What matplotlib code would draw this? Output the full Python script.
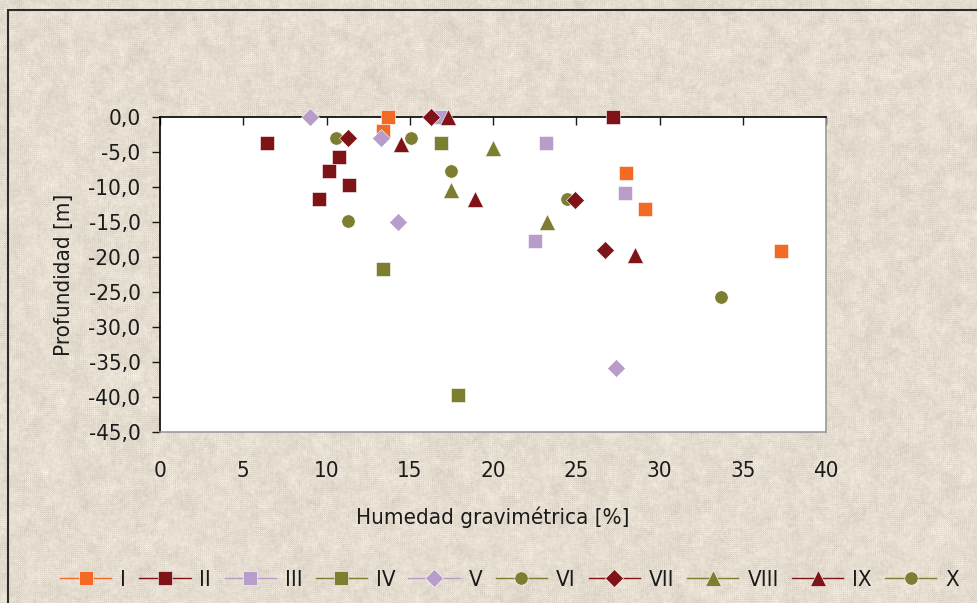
import numpy as np
import matplotlib
matplotlib.use("Agg")
import matplotlib.pyplot as plt
from matplotlib.patches import Rectangle
from matplotlib.ticker import FuncFormatter

plt.rcParams['font.family'] = ['Liberation Sans Narrow', 'DejaVu Sans']
plt.rcParams['font.stretch'] = 'condensed'

nan = np.nan

# humedad [%] y profundidad [m] por sondeo (nan = celda vacia, corta la linea)
I_x = [13.7, 13.4, nan, 28.0, nan, 29.1, nan, 37.3]
I_y = [0.0, -2.0, nan, -8.0, nan, -13.2, nan, -19.2]
II_x = [27.2, nan, 6.4, nan, 10.75, 10.15, nan, 11.35, nan, 9.55]
II_y = [0.0, nan, -3.8, nan, -5.8, -7.8, nan, -9.8, nan, -11.8]
III_x = [16.9, nan, 23.2, nan, 27.9, nan, 22.5]
III_y = [0.0, nan, -3.8, nan, -10.9, nan, -17.7]
IV_x = [16.9, nan, 13.4, nan, 17.9]
IV_y = [-3.8, nan, -21.7, nan, -39.7]
V_x = [9.0, nan, 13.3, nan, 14.3, nan, 27.4]
V_y = [0.0, nan, -3.0, nan, -15.0, nan, -35.9]
VI_x = [10.6, nan, 17.5, nan, 24.45]
VI_y = [-3.0, nan, -7.8, nan, -11.7]
VII_x = [16.3, nan, 11.3, nan, 24.9, nan, 26.7]
VII_y = [0.0, nan, -3.1, nan, -11.9, nan, -19.0]
VIII_x = [20.0, nan, 17.5, nan, 23.25]
VIII_y = [-4.4, nan, -10.4, nan, -15.0]
IX_x = [17.3, nan, 14.5, nan, 18.9, nan, 28.5]
IX_y = [0.0, nan, -3.9, nan, -11.8, nan, -19.8]
X_x = [15.1, nan, 11.3, nan, 33.7]
X_y = [-3.0, nan, -14.9, nan, -25.7]

naranja = '#F26A24'
granate = '#7E1418'
lila = '#B89DCB'
oliva = '#7E7E32'

series = [
    ('I', I_x, I_y, naranja, 's', 9.4),
    ('II', II_x, II_y, granate, 's', 9.4),
    ('III', III_x, III_y, lila, 's', 9.4),
    ('IV', IV_x, IV_y, oliva, 's', 9.4),
    ('V', V_x, V_y, lila, 'D', 9.4),
    ('VI', VI_x, VI_y, oliva, 'o', 9.6),
    ('VII', VII_x, VII_y, granate, 'D', 9.4),
    ('VIII', VIII_x, VIII_y, oliva, '^', 11),
    ('IX', IX_x, IX_y, granate, '^', 11),
    ('X', X_x, X_y, oliva, 'o', 9.6),
]

W, H = 978, 603
fig = plt.figure(figsize=(W / 100, H / 100), dpi=100)
fig.patch.set_facecolor('#E5DED0')

# fondo tipo papel: ruido suavizado con manchas
rng = np.random.default_rng(7)
fino = rng.normal(0, 1, (H, W))
grueso = rng.normal(0, 1, (H, W))
for _ in range(2):
    fino = (fino + np.roll(fino, 1, 0) + np.roll(fino, -1, 0)
            + np.roll(fino, 1, 1) + np.roll(fino, -1, 1)) / 5
for _ in range(8):
    grueso = (grueso + np.roll(grueso, 2, 0) + np.roll(grueso, -2, 0)
              + np.roll(grueso, 2, 1) + np.roll(grueso, -2, 1)) / 5
ruido = fino / fino.std() * 0.6 + grueso / grueso.std()
base = np.array([229, 222, 208]) / 255.0
tex = np.clip(base[None, None, :] + 0.02 * ruido[:, :, None], 0, 1)
fig.figimage(tex, xo=0, yo=0, zorder=0)

# marco del area del grafico
fig.add_artist(Rectangle((8 / W, -0.05), 1.2, 1 - 10 / H + 0.05,
                         transform=fig.transFigure, fill=False,
                         edgecolor='#2B2B2B', linewidth=1.5, zorder=1))

ax = fig.add_axes([160 / W, (H - 432) / H, 666 / W, (432 - 116.7) / H])
ax.set_zorder(3)
ax.set_facecolor('white')

for nombre, xs, ys, color, marca, tam in series:
    ax.plot(xs, ys, color=color, linewidth=1.0, marker=marca, markersize=tam,
            markeredgecolor='white', markeredgewidth=0.4,
            label=nombre, clip_on=False, zorder=3)

ax.set_xlim(0, 40)
ax.set_ylim(-45, 0)
ax.set_xticks(np.arange(0, 41, 5))
ax.set_yticks(np.arange(-45, 1, 5))
ax.yaxis.set_major_formatter(FuncFormatter(lambda v, p: f'{v:.1f}'.replace('.', ',')))

for lado in ('left', 'top'):
    ax.spines[lado].set_color('black')
    ax.spines[lado].set_linewidth(1.2)
for lado in ('right', 'bottom'):
    ax.spines[lado].set_color('#9A9A9A')
    ax.spines[lado].set_linewidth(1.2)

fs = 16
ax.tick_params(axis='x', top=True, bottom=False, labeltop=False, labelbottom=True,
               direction='in', length=5.5, width=1, pad=21, labelsize=fs,
               colors='#1A1A1A')
ax.tick_params(axis='y', direction='out', length=6, width=1, pad=8,
               labelsize=fs, colors='#1A1A1A')

ax.set_xlabel('Humedad gravimétrica [%]', fontsize=fs, color='#1A1A1A', labelpad=18)
ax.set_ylabel('Profundidad [m]', fontsize=fs, color='#1A1A1A', va='center')
ax.yaxis.set_label_coords((64 - 160) / 666, 0.5)

leg = fig.legend(loc='center', bbox_to_anchor=(0.521, 0.038), ncol=10, frameon=False,
                 fontsize=fs, handlelength=2.3, handletextpad=0.4,
                 columnspacing=0.6, borderaxespad=0)
leg.set_zorder(3)
for t in leg.get_texts():
    t.set_color('#1A1A1A')

fig.savefig('out.png', dpi=100, facecolor=fig.get_facecolor())
